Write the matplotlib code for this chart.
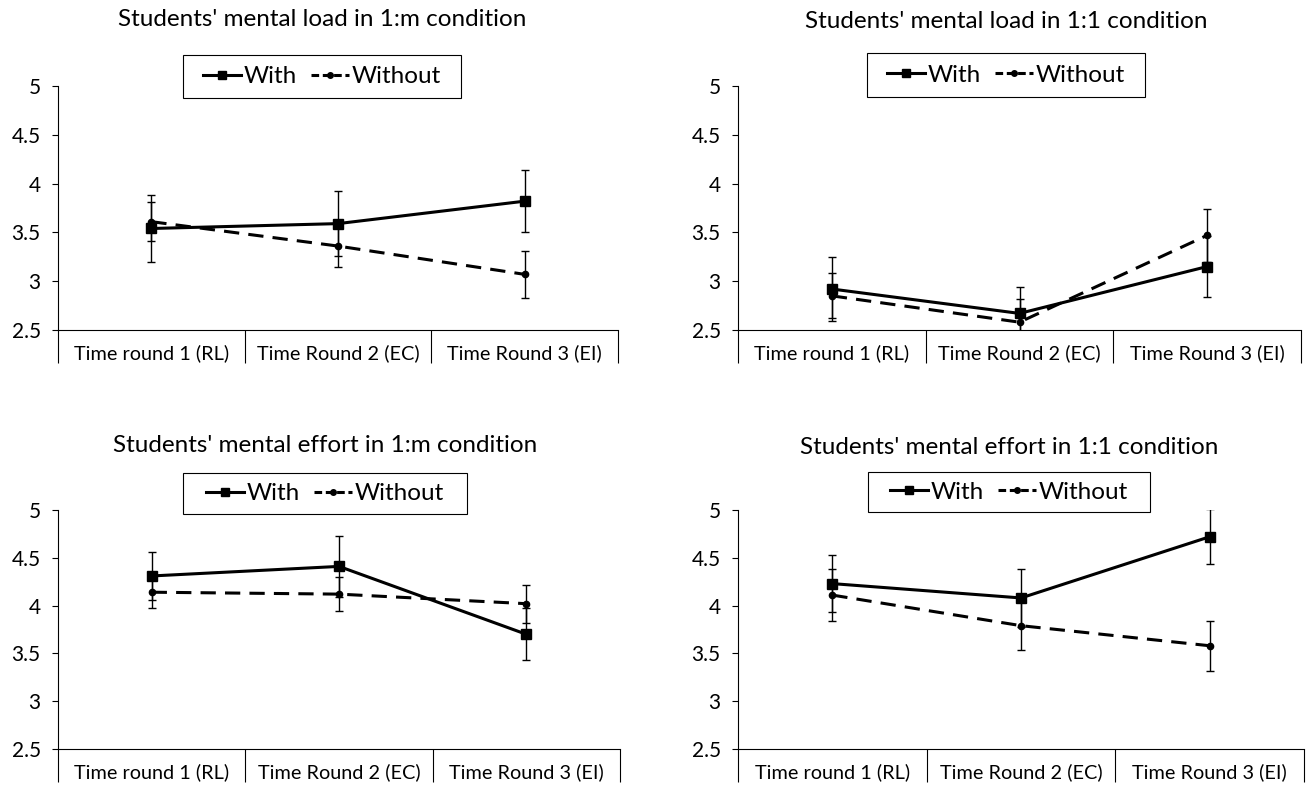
import numpy as np
from matplotlib import pyplot as plt
from matplotlib.lines import Line2D
from matplotlib.patches import Rectangle

plt.rcParams['font.family'] = ['Lato', 'DejaVu Sans']

rounds = ["Time round 1 (RL)", "Time Round 2 (EC)", "Time Round 3 (EI)"]

# mean scores and error bar half-widths
load_1m_with = [3.54, 3.59, 3.82]
load_1m_with_err = [0.34, 0.33, 0.32]
load_1m_without = [3.61, 3.36, 3.07]
load_1m_without_err = [0.20, 0.21, 0.24]

load_11_with = [2.92, 2.67, 3.15]
load_11_with_err = [0.33, 0.27, 0.31]
load_11_without = [2.85, 2.58, 3.47]
load_11_without_err = [0.23, 0.24, 0.27]

effort_1m_with = [4.31, 4.41, 3.70]
effort_1m_with_err = [0.25, 0.32, 0.27]
effort_1m_without = [4.14, 4.12, 4.02]
effort_1m_without_err = [0.16, 0.18, 0.20]

effort_11_with = [4.23, 4.08, 4.72]
effort_11_with_err = [0.30, 0.30, 0.29]
effort_11_without = [4.11, 3.79, 3.58]
effort_11_without_err = [0.27, 0.25, 0.26]

titles = ["Students' mental load in 1:m condition",
          "Students' mental load in 1:1 condition",
          "Students' mental effort in 1:m condition",
          "Students' mental effort in 1:1 condition"]

series = [
    (load_1m_with, load_1m_with_err, load_1m_without, load_1m_without_err),
    (load_11_with, load_11_with_err, load_11_without, load_11_without_err),
    (effort_1m_with, effort_1m_with_err, effort_1m_without, effort_1m_without_err),
    (effort_11_with, effort_11_with_err, effort_11_without, effort_11_without_err),
]

# layout in pixels: axes box (left, right, top, bottom), legend box (left, top, right, bottom), title y
axes_px = [(58, 618, 86, 330), (738, 1301, 86, 330), (58, 620, 510, 749), (738, 1304, 510, 749)]
legend_px = [(183, 55, 461, 98), (867, 53, 1145, 97), (183, 473, 467, 514), (868, 472, 1150, 512)]
title_y_px = [20, 21, 445, 447]

W, H = 1307, 785
fig = plt.figure(figsize=(W / 100, H / 100), dpi=100)

for i in range(4):
    with_v, with_e, wo_v, wo_e = series[i]
    x0, x1, y0, y1 = axes_px[i]
    ax = fig.add_axes([x0 / W, 1 - y1 / H, (x1 - x0) / W, (y1 - y0) / H])
    x = np.arange(1, len(rounds) + 1)

    ax.errorbar(x, wo_v, yerr=wo_e, color='black', linestyle=(0, (5, 3)), linewidth=2.2,
                marker='o', markersize=4.5, elinewidth=1, capsize=3, capthick=1)
    ax.errorbar(x, with_v, yerr=with_e, color='black', linestyle='-', linewidth=2.2,
                marker='s', markersize=7, elinewidth=1, capsize=3, capthick=1)

    ax.set_xlim(0.5, 3.5)
    ax.set_ylim(2.5, 5)
    ax.set_yticks([2.5, 3, 3.5, 4, 4.5, 5])
    ax.set_yticklabels(["2.5", "3", "3.5", "4", "4.5", "5"])
    ax.tick_params(axis='y', direction='out', length=4.5, width=0.8, labelsize=15, pad=8)

    # Excel-style category axis: separators between categories, labels centred
    ax.set_xticks([0.5, 1.5, 2.5, 3.5])
    ax.set_xticklabels([])
    ax.tick_params(axis='x', which='major', direction='out', length=24, width=0.8)
    ax.set_xticks(x, minor=True)
    ax.set_xticklabels(rounds, minor=True)
    ax.tick_params(axis='x', which='minor', length=0, labelsize=14.3, pad=10)

    for side in ['top', 'right']:
        ax.spines[side].set_visible(False)
    ax.spines['left'].set_linewidth(0.8)
    ax.spines['bottom'].set_linewidth(0.8)

    lx0, ly0, lx1, ly1 = legend_px[i]
    cx = (lx0 + lx1) / 2
    fig.text(cx / W, 1 - title_y_px[i] / H, titles[i], ha='center', va='center', fontsize=17.5)

    handles = [
        Line2D([], [], color='black', linestyle='-', linewidth=2.2, marker='s', markersize=6),
        Line2D([], [], color='black', linestyle=(0, (2.5, 1.2)), linewidth=2.2, marker='o', markersize=4),
    ]
    fig.legend(handles, ["With", "Without"], loc='center',
               bbox_to_anchor=(cx / W, 1 - (ly0 + ly1) / 2 / H),
               ncol=2, fontsize=17.5, frameon=False,
               handlelength=1.55, handletextpad=0.1, columnspacing=0.6,
               borderpad=0, borderaxespad=0)
    fig.patches.append(Rectangle((lx0 / W, 1 - ly1 / H), (lx1 - lx0) / W, (ly1 - ly0) / H,
                                 transform=fig.transFigure, fill=False,
                                 edgecolor='black', linewidth=0.8))

fig.savefig("out.png", dpi=100)
